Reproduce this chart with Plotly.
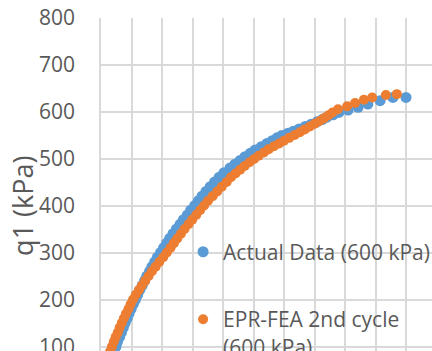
import plotly.graph_objects as go

# Deviator stress q1 (kPa) against axial strain (%), 600 kPa confinement
actual_strain = [0.037, 0.043, 0.049, 0.054, 0.061, 0.067, 0.073, 0.079, 0.086, 0.092, 0.099,
                 0.106, 0.113, 0.120, 0.127, 0.135, 0.143, 0.150, 0.159, 0.167, 0.176,
                 0.185, 0.195, 0.205, 0.215, 0.225, 0.236, 0.247, 0.259, 0.270, 0.283,
                 0.294, 0.307, 0.319, 0.331, 0.344, 0.358, 0.372, 0.387, 0.403, 0.423,
                 0.439, 0.456, 0.472, 0.489, 0.505, 0.525, 0.544, 0.561, 0.577, 0.593,
                 0.613, 0.630, 0.649, 0.669, 0.689, 0.708, 0.725, 0.741, 0.761, 0.780,
                 0.810, 0.843, 0.875, 0.915, 0.957, 1.000]
actual_q1 = [81, 91, 101, 111, 121, 131, 141, 151, 161, 171, 181,
             191, 201, 211, 221, 231, 241, 251, 261, 271, 281,
             291, 301, 311, 321, 331, 341, 351, 361, 371, 381,
             391, 401, 411, 421, 431, 441, 451, 461, 471, 481,
             489, 497, 505, 512, 519, 526, 533, 539, 545, 550,
             555, 559, 564, 569, 574, 579, 584, 589, 594, 599,
             604, 610, 617, 624, 631, 631]

fea_strain = [0.023, 0.030, 0.036, 0.042, 0.048, 0.055, 0.061, 0.068, 0.075, 0.082, 0.090,
              0.097, 0.105, 0.114, 0.124, 0.134, 0.145, 0.156, 0.167, 0.179, 0.191,
              0.204, 0.216, 0.228, 0.239, 0.250, 0.262, 0.274, 0.287, 0.299, 0.312,
              0.325, 0.338, 0.351, 0.366, 0.381, 0.396, 0.412, 0.426, 0.441, 0.456,
              0.471, 0.487, 0.502, 0.517, 0.534, 0.550, 0.567, 0.584, 0.600, 0.617,
              0.635, 0.652, 0.668, 0.685, 0.701, 0.717, 0.732, 0.746, 0.759, 0.777,
              0.807, 0.833, 0.862, 0.889, 0.934, 0.970]
fea_q1 = [81, 91, 101, 111, 121, 131, 141, 151, 161, 171, 181,
          191, 201, 211, 221, 231, 241, 251, 261, 271, 281,
          291, 301, 311, 321, 331, 341, 351, 361, 371, 381,
          391, 401, 411, 421, 431, 441, 451, 461, 469, 477,
          485, 493, 500, 507, 514, 521, 527, 533, 539, 545,
          551, 557, 563, 569, 575, 581, 587, 593, 599, 606,
          612, 619, 626, 631, 636, 638]

series_names = ["Actual Data (600 kPa)", "EPR-FEA 2nd cycle<br>(600 kPa)"]
y_ticks = [100, 200, 300, 400, 500, 600, 700, 800]

BLUE = "#5B9BD5"
ORANGE = "#ED7D31"
TEXT = "#595959"
GRID = "#D9D9D9"
FONT = "Open Sans"

fig = go.Figure()
fig.add_trace(go.Scatter(
    x=actual_strain, y=actual_q1, mode="markers", name=series_names[0],
    marker=dict(color=BLUE, size=11, line=dict(width=0)),
    legend="legend",
))
fig.add_trace(go.Scatter(
    x=fea_strain, y=fea_q1, mode="markers", name=series_names[1],
    marker=dict(color=ORANGE, size=10, line=dict(width=0)),
    legend="legend2",
))

legend_style = dict(
    bgcolor="rgba(0,0,0,0)", borderwidth=0,
    font=dict(family=FONT, size=21, color=TEXT),
    xanchor="left", yanchor="middle", xref="paper", yref="paper",
    valign="top", itemclick=False,
)

fig.update_layout(
    width=432, height=351,
    margin=dict(l=101, r=0, t=18, b=0, autoexpand=False),
    paper_bgcolor="white", plot_bgcolor="white",
    font=dict(family=FONT, color=TEXT),
    showlegend=True,
    legend=dict(x=0.248, y=0.297, **legend_style),
    legend2=dict(x=0.248, y=0.054, **legend_style),
    xaxis=dict(
        range=[0, 1.0852], dtick=0.1, tick0=0,
        showgrid=True, gridcolor=GRID, gridwidth=1.5,
        zeroline=False, showticklabels=False, ticks="",
    ),
    yaxis=dict(
        range=[91.5, 800], tickvals=y_ticks,
        showgrid=True, gridcolor=GRID, gridwidth=1.5,
        zeroline=False, showline=True, linecolor=GRID, linewidth=1.5,
        ticks="", ticklabelstandoff=20, ticklabeloverflow="allow",
        tickfont=dict(family=FONT, size=21, color=TEXT),
    ),
    annotations=[dict(
        text="q1 (kPa)", textangle=-90, showarrow=False,
        xref="paper", x=-0.239, xanchor="center",
        yref="y", y=400, yanchor="middle",
        font=dict(family=FONT, size=27, color=TEXT),
    )],
)

fig.write_html("out.html")
